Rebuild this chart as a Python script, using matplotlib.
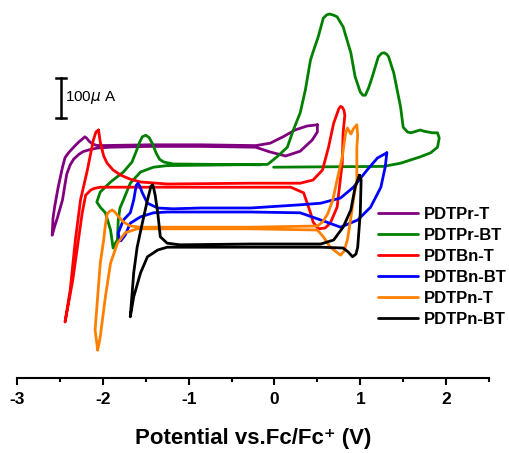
"""Cyclic voltammograms of the six PDT polymers (stacked, arbitrary offsets)."""

import matplotlib
matplotlib.use("Agg")
import matplotlib.pyplot as plt

plt.rcParams["font.family"] = ["Liberation Sans", "DejaVu Sans"]
plt.rcParams["axes.unicode_minus"] = False

# potential (V vs Fc/Fc+) and current (uA, arbitrary vertical offset per curve)
PDTPR_T_V = [0.50, 0.38, 0.24, 0.10, -0.05, -0.22, -0.86, -1.45, -2.03, -2.08, -2.12, -2.16,
             -2.19, -2.21, -2.23, -2.28, -2.34, -2.40, -2.44, -2.47, -2.52, -2.56, -2.58, -2.59,
             -2.56, -2.53, -2.47, -2.44, -2.42, -2.38, -2.34, -2.28, -2.23, -2.15, -2.06, -1.91,
             -1.45, -0.86, -0.22, -0.05, 0.13, 0.30, 0.44, 0.50, 0.50]
PDTPR_T_I = [438, 435, 425, 408, 392, 386, 388, 388, 386, 387, 390, 397,
             405, 408, 404, 395, 382, 368, 356, 332, 282, 235, 205, 162,
             185, 205, 250, 290, 315, 338, 352, 364, 371, 376, 380, 382,
             384, 384, 382, 370, 360, 372, 400, 420, 438]

PDTPR_BT_V = [-0.16, -1.18, -1.29, -1.34, -1.38, -1.42, -1.46, -1.50, -1.54, -1.57, -1.61, -1.66,
              -1.76, -1.91, -2.03, -2.07, -2.03, -1.97, -1.91, -1.88, -1.86, -1.83, -1.82, -1.80,
              -1.76, -1.68, -1.56, -1.41, -1.25, -0.08, 0.03, 0.15, 0.22, 0.30, 0.36, 0.42,
              0.45, 0.51, 0.57, 0.61, 0.64, 0.69, 0.73, 0.80, 0.89, 0.94, 1.00, 1.03,
              1.06, 1.10, 1.14, 1.21, 1.25, 1.28, 1.31, 1.33, 1.39, 1.47, 1.50, 1.55,
              1.59, 1.70, 1.74, 1.84, 1.90, 1.92, 1.90, 1.82, 1.70, 1.47, 1.27, -0.01]
PDTPR_BT_I = [338, 340, 345, 352, 368, 390, 406, 412, 408, 395, 372, 345,
              320, 295, 270, 245, 232, 218, 175, 130, 140, 150, 200, 230,
              250, 292, 320, 332, 336, 339, 358, 382, 425, 468, 525, 600,
              620, 658, 705, 713, 715, 712, 708, 683, 618, 558, 520, 512,
              512, 532, 558, 608, 617, 618, 614, 608, 568, 482, 432, 420,
              418, 425, 422, 418, 418, 405, 382, 368, 358, 342, 334, 332]

PDTBN_T_V = [-2.05, -2.03, -1.99, -1.95, -1.88, -1.79, -1.68, -1.56, -1.25, -0.28, 0.30, 0.45,
             0.56, 0.63, 0.69, 0.75, 0.77, 0.79, 0.81, 0.82, 0.80, 0.79, 0.73, 0.65,
             0.59, 0.51, 0.45, 0.42, 0.34, 0.19, -0.28, -2.03, -2.10, -2.14, -2.20, -2.24,
             -2.35, -2.44, -2.38, -2.32, -2.26, -2.18, -2.11, -2.08, -2.05]
PDTBN_T_I = [425, 395, 360, 342, 325, 312, 302, 295, 290, 292, 292, 300,
             325, 382, 442, 478, 484, 482, 474, 462, 418, 342, 232, 192,
             180, 178, 195, 218, 268, 282, 282, 282, 279, 275, 262, 218,
             50, -55, 25, 150, 250, 325, 400, 420, 425]

PDTBN_BT_V = [1.31, 1.20, 1.08, 0.92, 0.77, 0.54, 0.30, -0.28, -0.86, -1.18, -1.36, -1.48,
              -1.54, -1.57, -1.59, -1.61, -1.62, -1.64, -1.68, -1.76, -1.82, -1.81, -1.79, -1.74,
              -1.68, -1.56, -1.41, -1.25, -0.28, 0.30, 0.54, 0.77, 0.97, 1.12, 1.24, 1.29,
              1.31]
PDTBN_BT_I = [368, 355, 325, 282, 255, 242, 238, 230, 230, 228, 230, 242,
              268, 285, 292, 287, 275, 250, 218, 200, 168, 155, 148, 162,
              192, 208, 218, 220, 220, 218, 200, 182, 200, 232, 282, 332,
              368]

PDTPN_T_V = [-2.06, -2.09, -2.06, -2.03, -1.99, -1.97, -1.95, -1.92, -1.89, -1.86, -1.83, -1.76,
             -1.68, -1.56, -0.28, 0.50, 0.56, 0.62, 0.68, 0.73, 0.79, 0.83, 0.85, 0.89,
             0.92, 0.96, 0.97, 0.96, 0.96, 0.92, 0.89, 0.85, 0.81, 0.77, 0.65, 0.57,
             0.50, -0.28, -1.60, -1.74, -1.83, -1.91, -1.97, -2.03, -2.05, -2.06]
PDTPN_T_I = [-125, -75, 8, 92, 150, 188, 214, 222, 225, 220, 212, 195,
             185, 182, 182, 185, 195, 215, 250, 300, 358, 418, 430, 415,
             428, 438, 412, 382, 300, 250, 205, 150, 122, 112, 132, 158,
             175, 178, 178, 168, 142, 92, 8, -92, -115, -125]

PDTPN_BT_V = [0.99, 0.94, 0.89, 0.80, 0.69, 0.54, -0.28, -1.10, -1.25, -1.33, -1.36, -1.39,
              -1.41, -1.42, -1.44, -1.45, -1.48, -1.54, -1.60, -1.64, -1.68, -1.64, -1.56, -1.48,
              -1.36, -1.25, -0.28, 0.54, 0.80, 0.86, 0.91, 0.95, 0.97, 1.00, 1.01, 0.99]
PDTPN_BT_I = [312, 282, 225, 182, 150, 140, 140, 138, 142, 158, 218, 262,
              282, 288, 284, 275, 250, 192, 132, 68, -42, 8, 68, 108,
              125, 132, 132, 132, 130, 120, 108, 115, 132, 218, 300, 312]

LABELS = ["PDTPr-T", "PDTPr-BT", "PDTBn-T", "PDTBn-BT", "PDTPn-T", "PDTPn-BT"]
SCALE_BAR_UA = 100

COLORS = ["#800080", "#008000", "#ff0000", "#0000ff", "#ff8000", "#000000"]


def main():
    curves = [
        (PDTPR_T_V, PDTPR_T_I),
        (PDTPR_BT_V, PDTPR_BT_I),
        (PDTBN_T_V, PDTBN_T_I),
        (PDTBN_BT_V, PDTBN_BT_I),
        (PDTPN_T_V, PDTPN_T_I),
        (PDTPN_BT_V, PDTPN_BT_I),
    ]

    fig = plt.figure(figsize=(5.09, 4.53), dpi=100)
    ax = fig.add_axes([17 / 509, 75 / 453, 472 / 509, 378 / 453])

    for (v, i), label, color in zip(curves, LABELS, COLORS):
        ax.plot(v, i, color=color, linewidth=2.0, label=label,
                solid_joinstyle="round", solid_capstyle="round")

    # scale bar
    bar_x, bar_y0 = -2.49, 455
    ax.plot([bar_x, bar_x], [bar_y0, bar_y0 + SCALE_BAR_UA], color="black", linewidth=1.8)
    for yy in (bar_y0, bar_y0 + SCALE_BAR_UA):
        ax.plot([bar_x - 0.06, bar_x + 0.06], [yy, yy], color="black", linewidth=1.8)
    ax.text(bar_x + 0.05, bar_y0 + SCALE_BAR_UA / 2, f"{SCALE_BAR_UA}$\\mu$ A",
            ha="left", va="center", fontsize=11)

    ax.set_xlim(-3, 2.5)
    ax.set_ylim(-195, 750)
    ax.set_xticks([-3, -2, -1, 0, 1, 2])
    ax.set_xticks([-2.5, -1.5, -0.5, 0.5, 1.5, 2.5], minor=True)
    ax.set_yticks([])
    for side in ("left", "right", "top"):
        ax.spines[side].set_visible(False)
    ax.spines["bottom"].set_linewidth(1.5)
    ax.tick_params(axis="x", which="major", direction="out", length=5, width=1.5, pad=5,
                   labelsize=12.5)
    ax.tick_params(axis="x", which="minor", direction="out", length=3, width=1.5)
    for lab in ax.get_xticklabels():
        lab.set_fontweight("bold")
    ax.set_xlabel("Potential vs.Fc/Fc\u207a (V)", fontsize=16, fontweight="bold",
                  labelpad=15)

    fig.legend(loc="upper left", bbox_to_anchor=(378 / 509, 1 - 207 / 453), frameon=False,
               prop={"weight": "bold", "size": 12}, handlelength=2.4, handletextpad=0.35,
               labelspacing=0.36, borderpad=0, borderaxespad=0)

    fig.savefig("out.png", dpi=100)


if __name__ == "__main__":
    main()
